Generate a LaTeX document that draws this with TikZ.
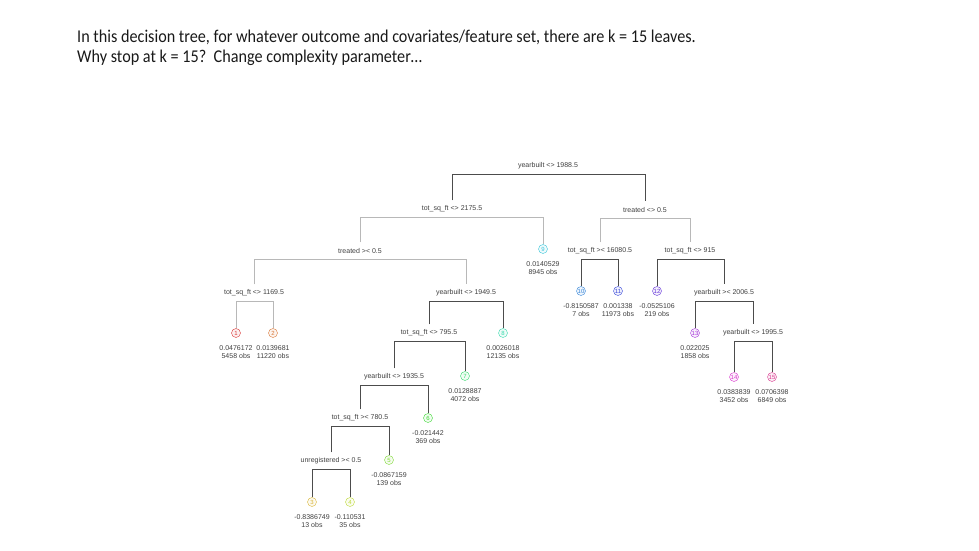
\PassOptionsToPackage{rgb}{xcolor}
\documentclass[tikz,border=0pt]{standalone}
\usepackage{fontspec}
\setmainfont{Liberation Sans}
\newfontfamily\headfont[FakeStretch=0.9]{Carlito}
\usetikzlibrary{positioning}

% leaf: name, number, x, y, mean, count
\newcommand{\leaf}[6]{%
  \pgfmathsetmacro\leafhue{(#2-1)*0.065}%
  \definecolor{leafcol}{hsb}{\leafhue,0.75,0.85}%
  \node[leafbox, draw=leafcol, text=leafcol, fill=leafcol!8] (#1) at (#3,#4) {#2};
  \node[leafval, below=8pt of #1] (#1v) {#5\\#6 obs};
}

\begin{document}
\begin{tikzpicture}[x=1pt, y=-1pt,
  font=\fontsize{7}{8}\selectfont,
  split/.style={minimum height=17pt, inner sep=0pt, text=black!75},
  leafbox/.style={circle, draw, thin, minimum size=9pt, inner sep=0pt,
    font=\fontsize{6}{6}\selectfont},
  leafval/.style={align=center, inner sep=0pt, text=black!75},
  dk/.style={black!70, line width=0.6pt},
  lt/.style={black!28, line width=0.6pt},
  head/.style={anchor=base west, inner sep=0pt, text=black!90,
    font=\headfont\fontsize{18}{20}\selectfont},
]
\useasboundingbox (0,0) rectangle (979,551);

\node[head] (title1) at (77,43)
  {In this decision tree, for whatever outcome and covariates/feature set, there are k = 15 leaves.};
\node[head] (title2) at (77,63)
  {Why stop at k = 15?\ \ Change complexity parameter\dots};

% splits
\node[split] (root)  at (548,166) {yearbuilt <> 1988.5};
\node[split] (sqA)   at (452,209) {tot\_sq\_ft <> 2175.5};
\node[split] (trB)   at (645,210) {treated <> 0.5};
\node[split] (trC)   at (360,251) {treated >< 0.5};
\node[split] (sqD)   at (600,251) {tot\_sq\_ft >< 16080.5};
\node[split] (sqE)   at (690,251) {tot\_sq\_ft <> 915};
\node[split] (sqF)   at (254,293) {tot\_sq\_ft <> 1169.5};
\node[split] (ybG)   at (466,293) {yearbuilt <> 1949.5};
\node[split] (ybH)   at (724,293) {yearbuilt >< 2006.5};
\node[split] (sqI)   at (429,333) {tot\_sq\_ft <> 795.5};
\node[split] (ybJ)   at (753,333) {yearbuilt <> 1995.5};
\node[split] (ybK)   at (394,377) {yearbuilt <> 1935.5};
\node[split] (sqL)   at (360,418) {tot\_sq\_ft >< 780.5};
\node[split] (unM)   at (331,461) {unregistered >< 0.5};

% leaves
\leaf{l1}{1}{236}{333}{0.0476172}{5458}
\leaf{l2}{2}{273}{333}{0.0139681}{11220}
\leaf{l3}{3}{312}{502}{-0.8386749}{13}
\leaf{l4}{4}{350}{502}{-0.110531}{35}
\leaf{l5}{5}{389}{460}{-0.0867159}{139}
\leaf{l6}{6}{428}{418}{-0.021442}{369}
\leaf{l7}{7}{465}{376}{0.0128887}{4072}
\leaf{l8}{8}{503}{333}{0.0026018}{12135}
\leaf{l9}{9}{543}{249}{0.0140529}{8945}
\leaf{l10}{10}{581}{291}{-0.8150587}{7}
\leaf{l11}{11}{618}{291}{0.001338}{11973}
\leaf{l12}{12}{657}{291}{-0.0525106}{219}
\leaf{l13}{13}{695}{333}{0.022025}{1858}
\leaf{l14}{14}{734}{377}{0.0383839}{3452}
\leaf{l15}{15}{772}{377}{0.0706398}{6849}

% branches
\draw[dk] (sqA.north) -- (sqA.north |- root.south) -- (trB.north |- root.south) -- (trB.north);
\draw[lt] (trC.north) -- (trC.north |- sqA.south) -- (l9.north |- sqA.south) -- (l9.north);
\draw[lt] (sqD.north) -- (sqD.north |- trB.south) -- (sqE.north |- trB.south) -- (sqE.north);
\draw[lt] (sqF.north) -- (sqF.north |- trC.south) -- (ybG.north |- trC.south) -- (ybG.north);
\draw[lt] (l1.north) -- (l1.north |- sqF.south) -- (l2.north |- sqF.south) -- (l2.north);
\draw[dk] (sqI.north) -- (sqI.north |- ybG.south) -- (l8.north |- ybG.south) -- (l8.north);
\draw[dk] (ybK.north) -- (ybK.north |- sqI.south) -- (l7.north |- sqI.south) -- (l7.north);
\draw[dk] (sqL.north) -- (sqL.north |- ybK.south) -- (l6.north |- ybK.south) -- (l6.north);
\draw[dk] (unM.north) -- (unM.north |- sqL.south) -- (l5.north |- sqL.south) -- (l5.north);
\draw[dk] (l3.north) -- (l3.north |- unM.south) -- (l4.north |- unM.south) -- (l4.north);
\draw[dk] (l10.north) -- (l10.north |- sqD.south) -- (l11.north |- sqD.south) -- (l11.north);
\draw[dk] (l12.north) -- (l12.north |- sqE.south) -- (ybH.north |- sqE.south) -- (ybH.north);
\draw[dk] (l13.north) -- (l13.north |- ybH.south) -- (ybJ.north |- ybH.south) -- (ybJ.north);
\draw[dk] (l14.north) -- (l14.north |- ybJ.south) -- (l15.north |- ybJ.south) -- (l15.north);
\end{tikzpicture}
\end{document}
